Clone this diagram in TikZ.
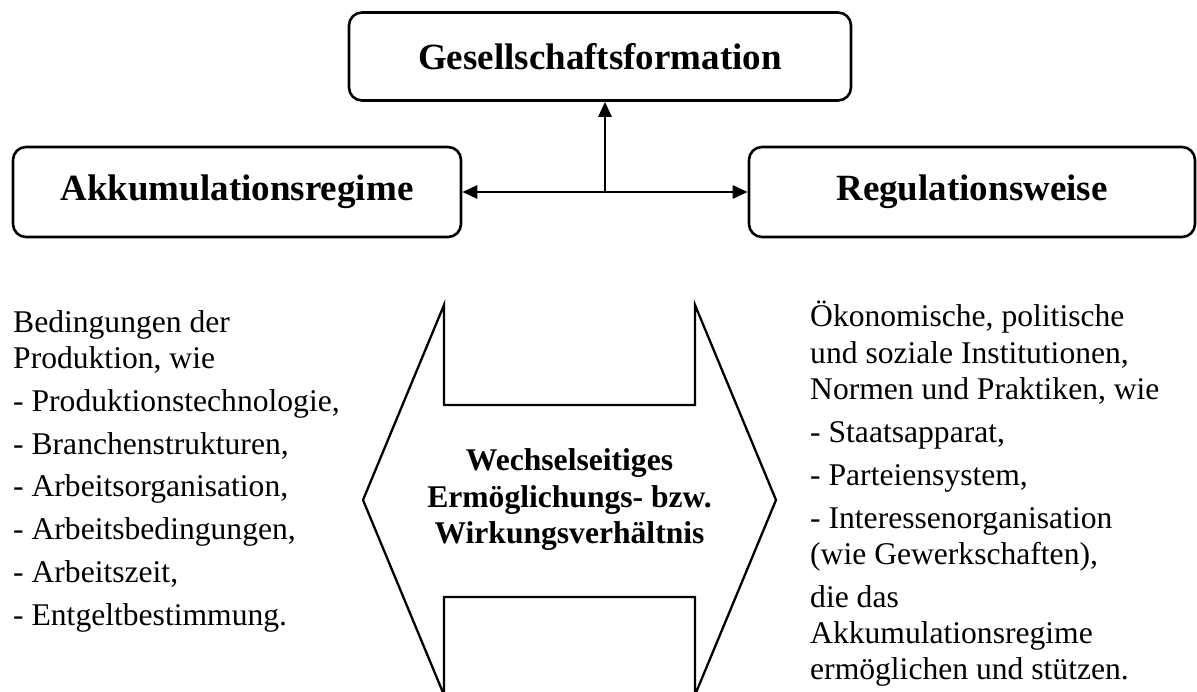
\documentclass[tikz,border=0pt]{standalone}
\usepackage{fontspec}
\setmainfont{Liberation Serif}
\usetikzlibrary{arrows.meta,calc}
\begin{document}
\begin{tikzpicture}[x=1pt,y=-1pt,
  box/.style={draw, line width=2.6pt, rounded corners=13pt, font=\fontsize{37}{42}\selectfont\bfseries, inner sep=0pt},
  body/.style={font=\fontsize{31.6}{36.3}\selectfont, inner sep=0pt, anchor=base west},
  mid/.style={font=\fontsize{31.6}{36.3}\selectfont\bfseries, inner sep=0pt, anchor=base},
  conn/.style={line width=2.6pt},
  bigarrow/.style={draw, line width=2.3pt, line join=miter}
]
\useasboundingbox (0,0) rectangle (1197,692);
\node[box, minimum width=502pt, minimum height=88pt] (T) at (600,56.5) {Gesellschaftsformation};
\node[box, minimum width=448pt, minimum height=90pt] (L) at (237,192) {Akkumulationsregime};
\node[box, minimum width=446pt, minimum height=90pt] (R) at (972,192) {Regulationsweise};
\draw[conn, {Triangle[length=15pt,width=13pt]}-{Triangle[length=15pt,width=13pt]}] (L.east) -- (R.west);
\coordinate (J) at ($(L.east)!0.5!(R.west)$);
\draw[conn, -{Triangle[length=15pt,width=13pt]}] (J) -- (J |- T.south);
% big double arrow
\draw[bigarrow] (444,305) -- (444,405) -- (695,405) -- (695,305) -- (776,500) -- (695,695) -- (695,597) -- (444,597) -- (444,695) -- (363,500) -- cycle;
\node[mid] (m1) at (569.5,471) {Wechselseitiges};
\node[mid] (m2) at (569.5,507) {Ermöglichungs- bzw.};
\node[mid] (m3) at (569.5,543) {Wirkungsverhältnis};
% left column
\foreach \t/\y [count=\i] in {Bedingungen der/333, {Produktion, wie}/368.8, {- Produktionstechnologie,}/411.5, {- Branchenstrukturen,}/454.2, {- Arbeitsorganisation,}/496.9, {- Arbeitsbedingungen,}/539.6, {- Arbeitszeit,}/582.3, {- Entgeltbestimmung.}/625}
  \node[body] (l\i) at (13,\y) {\t};
% right column
\foreach \t/\y [count=\i] in {{Ökonomische, politische}/327, {und soziale Institutionen,}/363.3, {Normen und Praktiken, wie}/399.6, {- Staatsapparat,}/442.4, {- Parteiensystem,}/485.2, {- Interessenorganisation}/528, {(wie Gewerkschaften),}/564.3, {die das}/607.1, {Akkumulationsregime}/643.4, {ermöglichen und stützen.}/679.7}
  \node[body] (r\i) at (810,\y) {\t};
\end{tikzpicture}
\end{document}
